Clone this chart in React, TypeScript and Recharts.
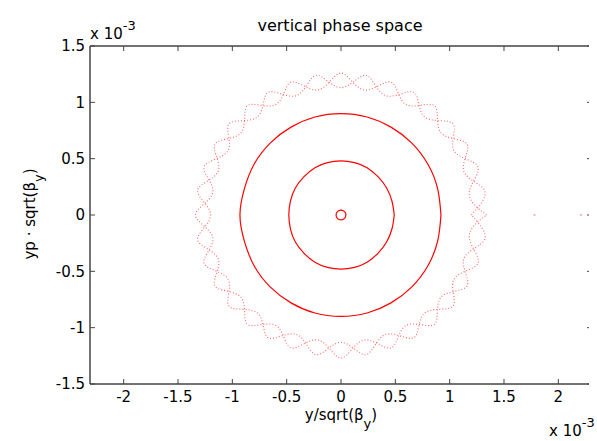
import { ScatterChart, Scatter, XAxis, YAxis } from "recharts";

// all values in units of 1e-3
const xTicks = [-2, -1.5, -1, -0.5, 0, 0.5, 1, 1.5, 2];
const yTicks = [-1.5, -1, -0.5, 0, 0.5, 1, 1.5];
const xRange = [-2.31, 2.31];
const yRange = [-1.5, 1.5];

// tiny orbit at the origin
const orbitCore = [
  [0.045, 0], [0.039, 0.022], [0.022, 0.038], [0, 0.044], [-0.022, 0.038], [-0.039, 0.022],
  [-0.045, 0], [-0.039, -0.022], [-0.022, -0.038], [0, -0.044], [0.022, -0.038], [0.039, -0.022],
  [0.045, 0],
];

const orbitInner = [
  [0.49, 0], [0.47, 0.12], [0.42, 0.24], [0.34, 0.34], [0.24, 0.42], [0.125, 0.465],
  [0, 0.48], [-0.125, 0.465], [-0.24, 0.42], [-0.34, 0.34], [-0.42, 0.24], [-0.465, 0.125],
  [-0.48, 0], [-0.465, -0.125], [-0.42, -0.24], [-0.34, -0.34], [-0.24, -0.42], [-0.125, -0.465],
  [0, -0.48], [0.125, -0.465], [0.24, -0.42], [0.34, -0.34], [0.42, -0.24], [0.47, -0.12],
  [0.49, 0],
];

const orbitMiddle = [
  [0.92, 0], [0.89, 0.23], [0.8, 0.45], [0.65, 0.64], [0.46, 0.78], [0.24, 0.87],
  [0, 0.9], [-0.24, 0.87], [-0.46, 0.78], [-0.65, 0.64], [-0.8, 0.45], [-0.89, 0.23],
  [-0.93, 0], [-0.89, -0.23], [-0.8, -0.45], [-0.65, -0.64], [-0.46, -0.78], [-0.24, -0.87],
  [0, -0.9], [0.24, -0.87], [0.46, -0.78], [0.65, -0.64], [0.8, -0.45], [0.89, -0.23],
  [0.92, 0],
];

// chaotic outer band, traced as two interwoven strands
const bandA = [
  [1.34, 0], [1.18, 0.2], [1.26, 0.43], [1.04, 0.57], [1.03, 0.81], [0.77, 0.87],
  [0.67, 1.09], [0.41, 1.06], [0.23, 1.24], [0, 1.13], [-0.23, 1.24], [-0.41, 1.06],
  [-0.67, 1.09], [-0.77, 0.87], [-1.03, 0.81], [-1.04, 0.57], [-1.26, 0.43], [-1.18, 0.2],
  [-1.34, 0], [-1.18, -0.2], [-1.26, -0.43], [-1.04, -0.57], [-1.03, -0.81], [-0.77, -0.87],
  [-0.67, -1.09], [-0.41, -1.06], [-0.23, -1.24], [0, -1.13], [0.23, -1.24], [0.41, -1.06],
  [0.67, -1.09], [0.77, -0.87], [1.03, -0.81], [1.04, -0.57], [1.26, -0.43], [1.18, -0.2],
  [1.34, 0],
];

const bandB = [
  [1.2, 0], [1.32, 0.22], [1.13, 0.39], [1.16, 0.63], [0.92, 0.73], [0.86, 0.97],
  [0.6, 0.98], [0.46, 1.18], [0.21, 1.11], [0, 1.26], [-0.21, 1.11], [-0.46, 1.18],
  [-0.6, 0.98], [-0.86, 0.97], [-0.92, 0.73], [-1.16, 0.63], [-1.13, 0.39], [-1.32, 0.22],
  [-1.2, 0], [-1.32, -0.22], [-1.13, -0.39], [-1.16, -0.63], [-0.92, -0.73], [-0.86, -0.97],
  [-0.6, -0.98], [-0.46, -1.18], [-0.21, -1.11], [0, -1.27], [0.21, -1.11], [0.46, -1.18],
  [0.6, -0.98], [0.86, -0.97], [0.92, -0.73], [1.16, -0.63], [1.13, -0.39], [1.32, -0.22],
  [1.2, 0],
];

const strayPoints = [[1.78, 0], [2.21, 0]];

const toPts = (a: number[][]) => a.map(([x, y]) => ({ x, y }));

// axes box (matlab style) and the mirrored ticks on top / right
const frame = [
  { x: xRange[0], y: yRange[0] }, { x: xRange[1], y: yRange[0] }, { x: xRange[1], y: yRange[1] },
  { x: xRange[0], y: yRange[1] }, { x: xRange[0], y: yRange[0] },
];
const topTicks = xTicks.map((t) => ({ x: t, y: yRange[1] }));
const rightTicks = yTicks.map((t) => ({ x: xRange[1], y: t }));

const FONT = "'DejaVu Sans', sans-serif";
const AXIS = "#444";
const RED = "#ff0000";

const noDot = () => <g />;
const pixelDot = ({ cx, cy }: any) => <rect x={cx - 1} y={cy - 1} width={2} height={2} fill="#ffb4b4" />;
const downTick = ({ cx, cy }: any) => <line x1={cx} y1={cy} x2={cx} y2={cy + 5} stroke={AXIS} />;
const leftTick = ({ cx, cy }: any) => <line x1={cx} y1={cy} x2={cx - 5} y2={cy} stroke={AXIS} />;

const XLabel = ({ viewBox }: any) => (
  <text x={viewBox.x + viewBox.width / 2} y={viewBox.y + 36} textAnchor="middle" fontFamily={FONT} fontSize={15} fill="#000">
    y/sqrt(β<tspan dy={8} fontSize={13}>y</tspan><tspan dy={-8}>)</tspan>
  </text>
);

const YLabel = () => (
  <text x={35} y={214} textAnchor="middle" transform="rotate(-90 35 214)" fontFamily={FONT} fontSize={15} fill="#000">
    yp · sqrt(β<tspan dy={8} fontSize={13}>y</tspan><tspan dy={-8}>)</tspan>
  </text>
);

const ringLine = { stroke: RED, strokeWidth: 1.2 };
const bandLine = { stroke: RED, strokeWidth: 1.1, strokeOpacity: 0.6, strokeDasharray: "1 2" };

export default function App() {
  return (
    <>
      <ScatterChart width={597} height={441} style={{ margin: -8 }} margin={{ top: 26, right: -15, bottom: 0, left: 0 }}>
        <XAxis
          type="number"
          dataKey="x"
          domain={xRange}
          ticks={xTicks}
          height={57}
          stroke={AXIS}
          tickSize={-5}
          tickMargin={12}
          tick={{ fill: "#000", fontSize: 15, fontFamily: FONT }}
          label={<XLabel />}
        />
        <XAxis
          xAxisId="top"
          orientation="top"
          type="number"
          dataKey="x"
          domain={xRange}
          ticks={xTicks}
          height={20}
          stroke={AXIS}
          tickSize={-5}
          tick={false}
        />
        <YAxis
          type="number"
          dataKey="y"
          domain={yRange}
          ticks={yTicks}
          width={90}
          stroke={AXIS}
          tickSize={-5}
          tickMargin={10}
          tick={{ fill: "#000", fontSize: 15, fontFamily: FONT }}
          label={<YLabel />}
        />
        <YAxis
          yAxisId="right"
          orientation="right"
          type="number"
          dataKey="y"
          domain={yRange}
          ticks={yTicks}
          width={20}
          stroke={AXIS}
          tickSize={-5}
          tick={false}
        />
        <Scatter data={frame} line={{ stroke: AXIS, strokeWidth: 1 }} shape={noDot} isAnimationActive={false} />
        <Scatter data={topTicks} shape={downTick} isAnimationActive={false} />
        <Scatter data={rightTicks} shape={leftTick} isAnimationActive={false} />
        <Scatter data={toPts(bandA)} line={bandLine} lineJointType="natural" shape={noDot} isAnimationActive={false} />
        <Scatter data={toPts(bandB)} line={bandLine} lineJointType="natural" shape={noDot} isAnimationActive={false} />
        <Scatter data={toPts(orbitMiddle)} line={ringLine} lineJointType="natural" shape={noDot} isAnimationActive={false} />
        <Scatter data={toPts(orbitInner)} line={ringLine} lineJointType="natural" shape={noDot} isAnimationActive={false} />
        <Scatter data={toPts(orbitCore)} line={ringLine} lineJointType="natural" shape={noDot} isAnimationActive={false} />
        <Scatter data={toPts(strayPoints)} xAxisId="top" yAxisId="right" shape={pixelDot} isAnimationActive={false} />
      </ScatterChart>
      <svg width={597} height={441} style={{ position: "absolute", left: 0, top: 0, pointerEvents: "none" }}>
        <text x={340} y={31} textAnchor="middle" fontFamily={FONT} fontSize={16} fill="#000">vertical phase space</text>
        <text x={90} y={39} fontFamily={FONT} fontSize={15} fill="#000">
          x 10<tspan dy={-9} fontSize={13}>-3</tspan>
        </text>
        <text x={549} y={436} fontFamily={FONT} fontSize={15} fill="#000">
          x 10<tspan dy={-9} fontSize={13}>-3</tspan>
        </text>
      </svg>
    </>
  );
}
